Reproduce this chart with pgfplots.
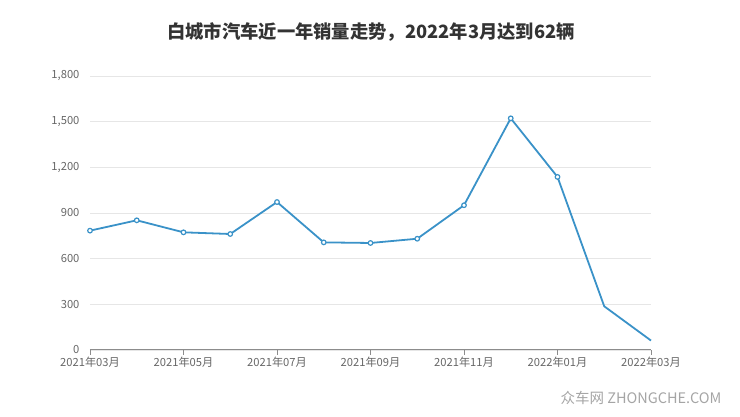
\documentclass[border=0pt]{standalone}
\usepackage{pgfplots}
\pgfplotsset{compat=1.18}
\usepackage{fontspec}
\setmainfont{Noto Sans CJK SC}
\definecolor{linecol}{RGB}{58,146,200}
\definecolor{gridcol}{RGB}{230,230,230}
\definecolor{axiscol}{RGB}{140,140,140}
\definecolor{tickcol}{RGB}{102,102,102}
\definecolor{titlecol}{RGB}{51,51,51}
\definecolor{wmcol}{RGB}{165,165,165}
\begin{document}
\begin{tikzpicture}[x=1pt,y=1pt]
\path[use as bounding box] (0,0) rectangle (740,417);
\node[font=\fontsize{18.3}{21}\selectfont\bfseries, text=titlecol] at (371,385) {白城市汽车近一年销量走势，2022年3月达到62辆};
\node[font=\fontsize{14.5}{16}\selectfont, text=wmcol] at (641,19) {众车网 ZHONGCHE.COM};
\begin{axis}[
  at={(90pt,67pt)}, anchor=south west,
  scale only axis, width=561pt, height=274pt,
  xmin=0, xmax=12, ymin=0, ymax=1800,
  ytick={0,300,...,1800},
  xtick={0,2,...,12},
  xticklabels={2021年03月,2021年05月,2021年07月,2021年09月,2021年11月,2022年01月,2022年03月},
  axis x line*=bottom, axis y line*=left,
  y axis line style={draw=none},
  x axis line style={color=axiscol, line width=1pt, -},
  ytick style={draw=none},
  xtick style={color=axiscol, line width=0.8pt},
  tick align=outside, major tick length=5pt,
  ymajorgrids, grid style={color=gridcol, line width=0.8pt},
  tick label style={font=\fontsize{11.2}{13}\selectfont, text=tickcol},
  yticklabel style={xshift=-2pt},
  xticklabel style={yshift=1pt},
  scaled y ticks=false,
  /pgf/number format/1000 sep={,},
  /pgf/number format/assume math mode=true,
  clip=false,
]
\addplot[color=linecol, line width=1.8pt, no marks] coordinates {
(0,784) (1,852) (2,773) (3,762) (4,972) (5,707) (6,703) (7,731) (8,951) (9,1522) (10,1137) (11,287) (12,62)
};
\addplot[color=linecol, only marks, mark=*, mark size=2.3pt, mark options={fill=white, line width=1.2pt}] coordinates {
(0,784) (1,852) (2,773) (3,762) (4,972) (5,707) (6,703) (7,731) (8,951) (9,1522) (10,1137)
};
\end{axis}
\end{tikzpicture}
\end{document}
